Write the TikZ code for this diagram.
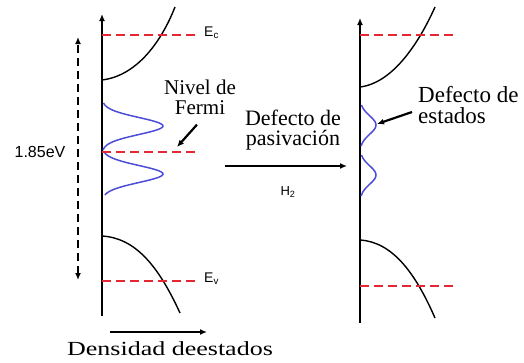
\documentclass[tikz,border=0pt]{standalone}
\usepackage{fontspec}
\setmainfont{Liberation Serif}
\newfontfamily\timesfont{Liberation Serif}
\newfontfamily\arialfont{Liberation Sans}
\usetikzlibrary{arrows.meta, positioning}
\tikzset{>={Latex[length=7pt, width=6pt]}}
\definecolor{bandred}{rgb}{0.9, 0.15, 0.2}
\definecolor{trapblue}{rgb}{0.3, 0.3, 0.85}
\tikzset{
  axisline/.style={line width=2.8pt},
  level/.style={bandred, line width=2.8pt, dash pattern=on 9pt off 5pt},
  gaparrow/.style={<->, line width=2.6pt, dash pattern=on 8pt off 5pt},
  band/.style={line width=1.4pt},
  trap/.style={trapblue, line width=1.5pt},
  pointer/.style={->, line width=2.2pt},
  serif/.style={font=\timesfont\fontsize{21}{18}\selectfont, inner sep=0pt},
  sans/.style={font=\arialfont\fontsize{14}{16}\selectfont, inner sep=0pt},
}

\begin{document}
\begin{tikzpicture}[x=1pt, y=-1pt]
  \useasboundingbox (0,0) rectangle (524,362);
  % antes de la pasivacion
  \coordinate (Lbot) at (102,316);%
  \coordinate (Ltop) at (102,14);%
  \draw[axisline, ->] (Lbot) -- (Ltop);%
  \draw[band] (102,80) .. controls (135,76) and (160,45) .. (175,7);%
  \draw[band] (102,236) .. controls (135,238) and (158,265) .. (180,313);%
  \draw[trap] plot[domain=103:150, samples=40, smooth] ({102+61*exp(-((\x-126)/12)*((\x-126)/12))}, \x);%
  \draw[trap] plot[domain=152:195, samples=40, smooth] ({102+61*exp(-((\x-174)/12)*((\x-174)/12))}, \x);%
  \draw[level] (102,35) -- (197,35);%
  \draw[level] (102,152) -- (197,152);%
  \draw[level] (102,281) -- (197,281);%
  \node[sans, anchor=west] (Ec) at (204,33) {E\textsubscript{c}};%
  \node[sans, anchor=west] (Ev) at (204,279) {E\textsubscript{v}};%
  \coordinate (gapbot) at (78,280);%
  \coordinate (gaptop) at (78,37);%
  \draw[gaparrow] (gapbot) -- (gaptop);%
  \node[sans, font=\arialfont\fontsize{16}{18}\selectfont] (gap) at (40,152) {1.85eV};%
  \node[serif, font=\timesfont\fontsize{21}{20}\selectfont, align=center] (fermi) at (200,97) {Nivel de\\Fermi};%
  \coordinate (fermitip) at (177,147);%
  \draw[pointer] ([xshift=-3pt, yshift=-10pt]fermi.south) -- (fermitip);%
  \coordinate (dosstart) at (110,332);%
  \coordinate (dosend) at (207,332);%
  \draw[pointer, line width=2.6pt] (dosstart) -- (dosend);%
  \node[serif, font=\timesfont\fontsize{20}{22}\selectfont, xscale=1.3, transform shape, anchor=base] (dos) at (170,355) {Densidad deestados};%
  % paso de pasivacion
  \node[serif, font=\timesfont\fontsize{22}{20}\selectfont, align=center] (pasiv) at (293,130) {Defecto de\\pasivación};%
  \coordinate (h2start) at (225,166);%
  \coordinate (h2end) at (347,166);%
  \draw[pointer] (h2start) -- (h2end);%
  \node[sans, font=\arialfont\fontsize{13}{15}\selectfont] (h2) at (288,192) {H\textsubscript{2}};%
  % despues de la pasivacion
  \coordinate (Rbot) at (360,323);%
  \coordinate (Rtop) at (360,18);%
  \draw[axisline, ->] (Rbot) -- (Rtop);%
  \draw[band] (360,87) .. controls (392,83) and (418,45) .. (435,7);%
  \draw[band] (360,240) .. controls (392,242) and (415,272) .. (435,318);%
  \draw[trap] plot[domain=105:146, samples=40, smooth] ({360+16*exp(-((\x-125)/13)*((\x-125)/13))}, \x);%
  \draw[trap] plot[domain=155:196, samples=40, smooth] ({360+16*exp(-((\x-175)/13)*((\x-175)/13))}, \x);%
  \draw[level] (360,35) -- (455,35);%
  \draw[level] (360,286) -- (455,286);%
  \node[serif, font=\timesfont\fontsize{23}{21}\selectfont, align=left, anchor=west] (defects) at (418,105) {Defecto de\\estados};%
  \coordinate (defecttip) at (377,124);%
  \draw[pointer] ([xshift=-6pt, yshift=-7pt]defects.west) -- (defecttip);%
\end{tikzpicture}
\end{document}
